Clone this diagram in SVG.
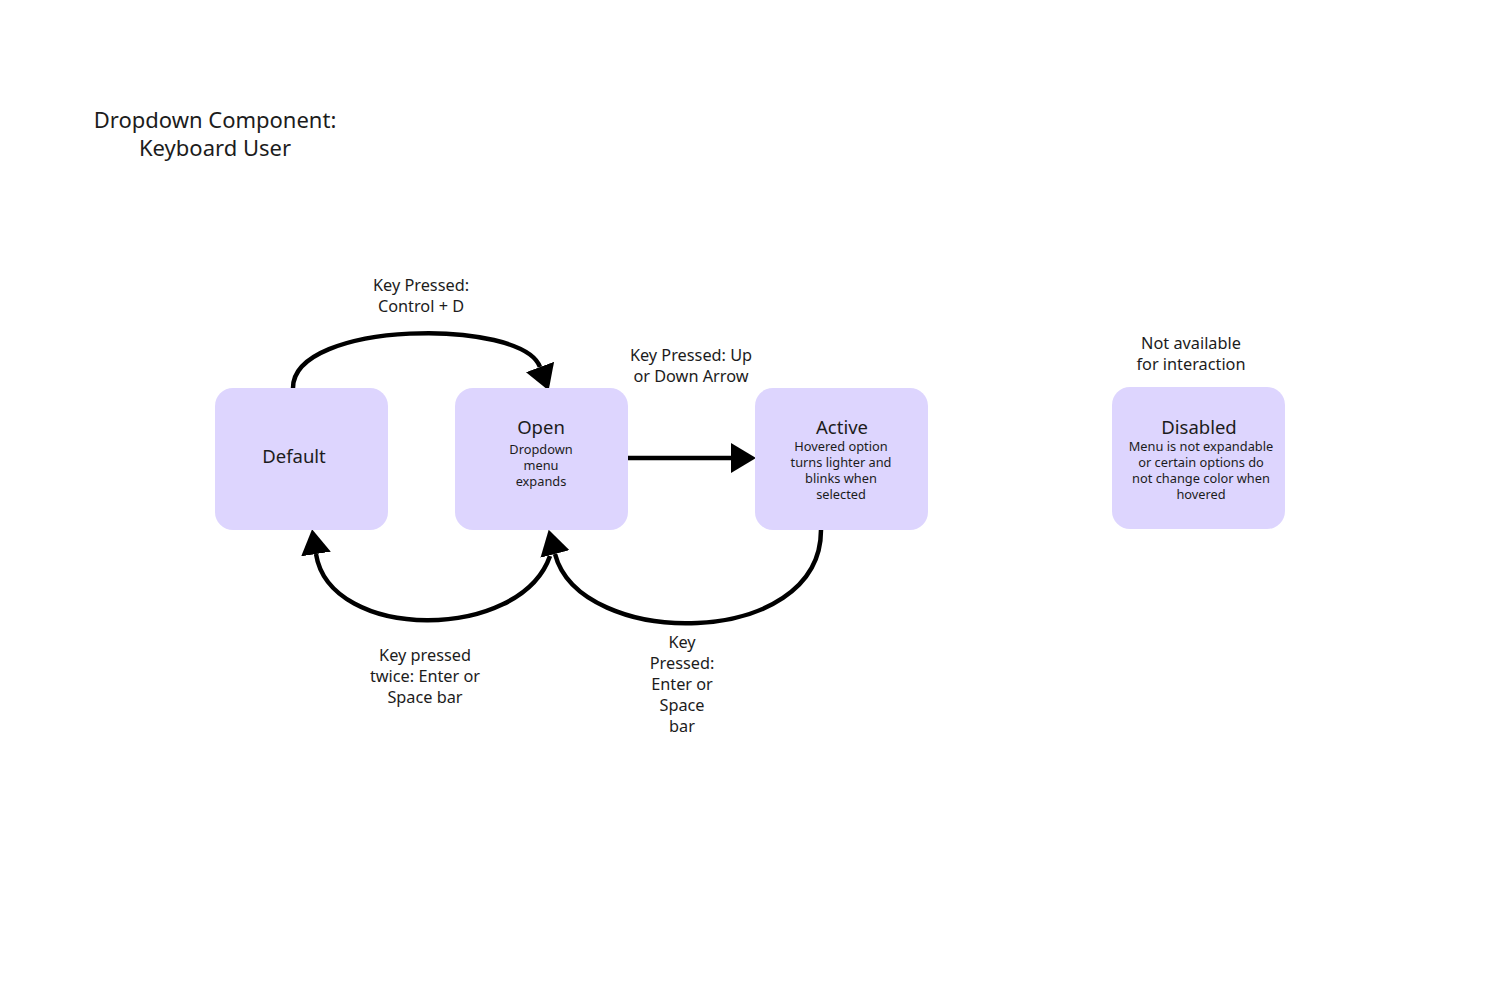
<svg xmlns="http://www.w3.org/2000/svg" width="1500" height="1000" viewBox="0 0 1500 1000">
<style>
  text { font-family: "Noto Sans", "Open Sans", sans-serif; fill: #1c1c1c; text-anchor: middle; }
  .title { font-size: 22px; }
  .nodeTitle { font-size: 18.5px; }
  .sub { font-size: 12.8px; }
  .lbl { font-size: 16.3px; }
  .box { fill: #ddd5fe; }
  .edge { fill: none; stroke: #000; stroke-width: 4.5; }
</style>
<defs>
  <marker id="arrow" markerUnits="userSpaceOnUse" markerWidth="26" markerHeight="30" refX="0" refY="15" orient="auto" viewBox="0 0 26 30">
    <path d="M0,0 L25,15 L0,30 z" fill="#000"/>
  </marker>
</defs>
<rect width="1500" height="1000" fill="#fff"/>
<g id="title">
  <text class="title" x="215" y="128">Dropdown Component:</text>
  <text class="title" x="215" y="156">Keyboard User</text>
</g>
<g id="connectors">
  <path class="edge" d="M 293 388 C 293 320, 522 318, 540 367" marker-end="url(#arrow)"/>
  <path class="edge" d="M 628 458 L 731 458" marker-end="url(#arrow)"/>
  <path class="edge" d="M 550 556 C 520 642, 330 642, 316 554" marker-end="url(#arrow)"/>
  <path class="edge" d="M 821 530 C 821 650, 580 650, 555 554" marker-end="url(#arrow)"/>
</g>
<g id="edge-labels">
  <text class="lbl" x="421" y="291">Key Pressed:</text>
  <text class="lbl" x="421" y="312">Control + D</text>
  <text class="lbl" x="691" y="361">Key Pressed: Up</text>
  <text class="lbl" x="691" y="382">or Down Arrow</text>
  <text class="lbl" x="425" y="661">Key pressed</text>
  <text class="lbl" x="425" y="682">twice: Enter or</text>
  <text class="lbl" x="425" y="703">Space bar</text>
  <text class="lbl" x="682" y="648">Key</text>
  <text class="lbl" x="682" y="669">Pressed:</text>
  <text class="lbl" x="682" y="690">Enter or</text>
  <text class="lbl" x="682" y="711">Space</text>
  <text class="lbl" x="682" y="732">bar</text>
</g>
<g id="node-default">
  <rect class="box" x="215" y="388" width="173" height="142" rx="18"/>
  <text class="nodeTitle" x="294" y="463">Default</text>
</g>
<g id="node-open">
  <rect class="box" x="455" y="388" width="173" height="142" rx="18"/>
  <text class="nodeTitle" x="541" y="434">Open</text>
  <text class="sub" x="541" y="454">Dropdown</text>
  <text class="sub" x="541" y="470">menu</text>
  <text class="sub" x="541" y="486">expands</text>
</g>
<g id="node-active">
  <rect class="box" x="755" y="388" width="173" height="142" rx="18"/>
  <text class="nodeTitle" x="842" y="434">Active</text>
  <text class="sub" x="841" y="451">Hovered option</text>
  <text class="sub" x="841" y="467">turns lighter and</text>
  <text class="sub" x="841" y="483">blinks when</text>
  <text class="sub" x="841" y="499">selected</text>
</g>
<g id="node-disabled">
  <text class="lbl" x="1191" y="349">Not available</text>
  <text class="lbl" x="1191" y="370">for interaction</text>
  <rect class="box" x="1112" y="387" width="173" height="142" rx="18"/>
  <text class="nodeTitle" x="1199" y="434">Disabled</text>
  <text class="sub" x="1201" y="451">Menu is not expandable</text>
  <text class="sub" x="1201" y="467">or certain options do</text>
  <text class="sub" x="1201" y="483">not change color when</text>
  <text class="sub" x="1201" y="499">hovered</text>
</g>
</svg>
